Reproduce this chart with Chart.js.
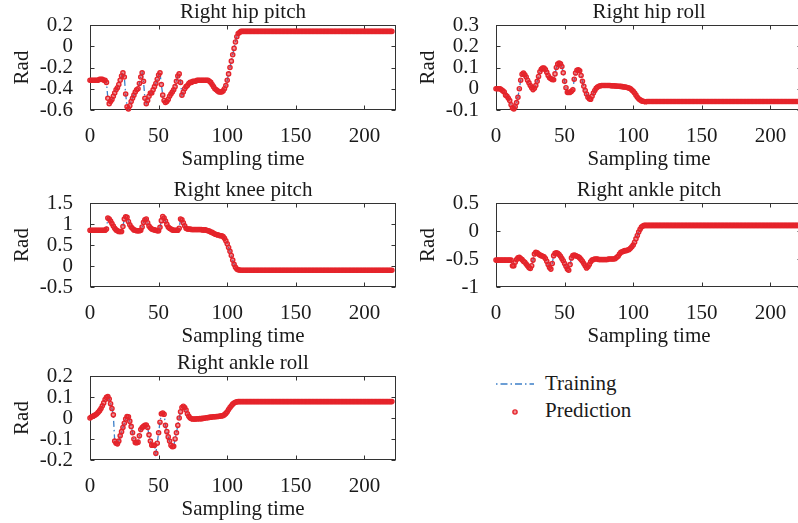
<!DOCTYPE html>
<html lang="en">
<head>
<meta charset="UTF-8">
<title>Right leg joints: training vs prediction</title>
<script src="https://cdn.jsdelivr.net/npm/chart.js"></script>
<style>
  html, body { margin: 0; padding: 0; width: 798px; height: 523px; overflow: hidden; background: #fff; }
  .panel { position: absolute; }
  .legend-text { position: absolute; font: 21px 'Liberation Serif', serif; color: #1a1a1a; line-height: 24px; white-space: nowrap; }
  .legend-mark { position: absolute; }
</style>
</head>
<body>
<div class="panel" id="p1"><canvas></canvas></div>
<div class="panel" id="p2"><canvas></canvas></div>
<div class="panel" id="p3"><canvas></canvas></div>
<div class="panel" id="p4"><canvas></canvas></div>
<div class="panel" id="p5"><canvas></canvas></div>

<!-- legend -->
<svg class="legend-mark" style="left:494px;top:378px" width="42" height="12">
  <line x1="2" y1="6" x2="40" y2="6" stroke="#3d7fc8" stroke-width="1.5" stroke-dasharray="1.5 3 7 3"/>
</svg>
<div class="legend-text" style="left:545px;top:371px">Training</div>
<svg class="legend-mark" style="left:509px;top:406px" width="12" height="12">
  <circle cx="6" cy="6" r="2.1" stroke="#e5242b" stroke-width="1.4" fill="rgba(229,36,43,0.5)"/>
</svg>
<div class="legend-text" style="left:545px;top:398px">Prediction</div>

<script>
// tick labels
const xTicks = [0, 50, 100, 150, 200];
const hipPitchTicks = [-0.6, -0.4, -0.2, 0, 0.2];
const hipRollTicks = [-0.1, 0, 0.1, 0.2, 0.3];
const kneePitchTicks = [-0.5, 0, 0.5, 1, 1.5];
const anklePitchTicks = [-1, -0.5, 0, 0.5];
const ankleRollTicks = [-0.2, -0.1, 0, 0.1, 0.2];

// joint angles (rad), one value per sampling time 0..220
const hipPitch = [
  -0.32,-0.32,-0.32,-0.32,-0.32,-0.32,-0.32,-0.31,-0.31,-0.31,
  -0.32,-0.32,-0.34,-0.49,-0.54,-0.52,-0.50,-0.47,-0.44,-0.41,
  -0.39,-0.36,-0.32,-0.28,-0.25,-0.29,-0.45,-0.57,-0.59,-0.56,
  -0.52,-0.49,-0.46,-0.43,-0.41,-0.40,-0.35,-0.29,-0.25,-0.33,
  -0.49,-0.54,-0.51,-0.47,-0.44,-0.44,-0.41,-0.38,-0.35,-0.31,
  -0.27,-0.25,-0.36,-0.46,-0.51,-0.53,-0.52,-0.50,-0.47,-0.45,
  -0.43,-0.41,-0.38,-0.33,-0.28,-0.26,-0.34,-0.46,-0.43,-0.40,
  -0.38,-0.37,-0.35,-0.34,-0.34,-0.33,-0.33,-0.33,-0.32,-0.32,
  -0.32,-0.32,-0.32,-0.32,-0.32,-0.32,-0.32,-0.33,-0.34,-0.36,
  -0.38,-0.40,-0.41,-0.42,-0.43,-0.43,-0.43,-0.42,-0.40,-0.37,
  -0.32,-0.26,-0.20,-0.14,-0.08,-0.02,0.04,0.09,0.12,0.13,
  0.14,0.14,0.14,0.14,0.14,0.14,0.14,0.14,0.14,0.14,
  0.14,0.14,0.14,0.14,0.14,0.14,0.14,0.14,0.14,0.14,
  0.14,0.14,0.14,0.14,0.14,0.14,0.14,0.14,0.14,0.14,
  0.14,0.14,0.14,0.14,0.14,0.14,0.14,0.14,0.14,0.14,
  0.14,0.14,0.14,0.14,0.14,0.14,0.14,0.14,0.14,0.14,
  0.14,0.14,0.14,0.14,0.14,0.14,0.14,0.14,0.14,0.14,
  0.14,0.14,0.14,0.14,0.14,0.14,0.14,0.14,0.14,0.14,
  0.14,0.14,0.14,0.14,0.14,0.14,0.14,0.14,0.14,0.14,
  0.14,0.14,0.14,0.14,0.14,0.14,0.14,0.14,0.14,0.14,
  0.14,0.14,0.14,0.14,0.14,0.14,0.14,0.14,0.14,0.14,
  0.14,0.14,0.14,0.14,0.14,0.14,0.14,0.14,0.14,0.14,
  0.14
];

const hipRoll = [
  0.00,0.00,0.00,0.00,-0.005,-0.01,-0.015,-0.03,-0.035,-0.045,
  -0.055,-0.075,-0.09,-0.095,-0.085,-0.065,-0.04,0.00,0.04,0.068,
  0.074,0.066,0.055,0.04,0.028,0.015,0.005,-0.004,0.002,0.015,
  0.035,0.058,0.08,0.092,0.097,0.097,0.09,0.078,0.062,0.052,
  0.047,0.044,0.042,0.07,0.1,0.116,0.121,0.118,0.105,0.075,
  0.035,0.005,-0.017,-0.018,-0.017,-0.012,-0.005,0.045,0.074,0.087,
  0.089,0.085,0.062,0.035,0.012,-0.008,-0.025,-0.04,-0.047,-0.049,
  -0.035,-0.02,-0.008,0.002,0.008,0.012,0.014,0.015,0.015,0.015,
  0.015,0.015,0.015,0.015,0.014,0.014,0.014,0.013,0.013,0.012,
  0.012,0.011,0.01,0.009,0.008,0.007,0.005,0.003,0.0,-0.006,
  -0.012,-0.02,-0.03,-0.04,-0.047,-0.052,-0.056,-0.059,-0.06,-0.061,
  -0.06,-0.06,-0.06,-0.06,-0.06,-0.06,-0.06,-0.06,-0.06,-0.06,
  -0.06,-0.06,-0.06,-0.06,-0.06,-0.06,-0.06,-0.06,-0.06,-0.06,
  -0.06,-0.06,-0.06,-0.06,-0.06,-0.06,-0.06,-0.06,-0.06,-0.06,
  -0.06,-0.06,-0.06,-0.06,-0.06,-0.06,-0.06,-0.06,-0.06,-0.06,
  -0.06,-0.06,-0.06,-0.06,-0.06,-0.06,-0.06,-0.06,-0.06,-0.06,
  -0.06,-0.06,-0.06,-0.06,-0.06,-0.06,-0.06,-0.06,-0.06,-0.06,
  -0.06,-0.06,-0.06,-0.06,-0.06,-0.06,-0.06,-0.06,-0.06,-0.06,
  -0.06,-0.06,-0.06,-0.06,-0.06,-0.06,-0.06,-0.06,-0.06,-0.06,
  -0.06,-0.06,-0.06,-0.06,-0.06,-0.06,-0.06,-0.06,-0.06,-0.06,
  -0.06,-0.06,-0.06,-0.06,-0.06,-0.06,-0.06,-0.06,-0.06,-0.06,
  -0.06,-0.06,-0.06,-0.06,-0.06,-0.06,-0.06,-0.06,-0.06,-0.06,
  -0.06
];

const kneePitch = [
  0.85,0.85,0.85,0.85,0.85,0.85,0.85,0.85,0.85,0.85,
  0.85,0.85,0.88,1.14,1.12,1.07,1.01,0.95,0.90,0.86,
  0.84,0.82,0.82,0.82,0.94,1.12,1.17,1.16,1.06,0.98,
  0.93,0.89,0.86,0.85,0.84,0.84,0.84,0.85,0.93,1.04,
  1.10,1.12,1.03,0.95,0.91,0.88,0.87,0.86,0.85,0.84,
  0.84,0.92,1.08,1.18,1.14,1.07,0.99,0.93,0.90,0.88,
  0.86,0.85,0.85,0.85,0.85,0.90,1.12,1.10,1.03,0.96,
  0.90,0.88,0.88,0.88,0.87,0.87,0.87,0.87,0.87,0.87,
  0.87,0.87,0.86,0.86,0.86,0.85,0.84,0.83,0.81,0.80,
  0.78,0.76,0.75,0.74,0.73,0.72,0.72,0.70,0.66,0.60,
  0.53,0.44,0.35,0.25,0.14,0.04,-0.03,-0.07,-0.09,-0.095,
  -0.10,-0.10,-0.10,-0.10,-0.10,-0.10,-0.10,-0.10,-0.10,-0.10,
  -0.10,-0.10,-0.10,-0.10,-0.10,-0.10,-0.10,-0.10,-0.10,-0.10,
  -0.10,-0.10,-0.10,-0.10,-0.10,-0.10,-0.10,-0.10,-0.10,-0.10,
  -0.10,-0.10,-0.10,-0.10,-0.10,-0.10,-0.10,-0.10,-0.10,-0.10,
  -0.10,-0.10,-0.10,-0.10,-0.10,-0.10,-0.10,-0.10,-0.10,-0.10,
  -0.10,-0.10,-0.10,-0.10,-0.10,-0.10,-0.10,-0.10,-0.10,-0.10,
  -0.10,-0.10,-0.10,-0.10,-0.10,-0.10,-0.10,-0.10,-0.10,-0.10,
  -0.10,-0.10,-0.10,-0.10,-0.10,-0.10,-0.10,-0.10,-0.10,-0.10,
  -0.10,-0.10,-0.10,-0.10,-0.10,-0.10,-0.10,-0.10,-0.10,-0.10,
  -0.10,-0.10,-0.10,-0.10,-0.10,-0.10,-0.10,-0.10,-0.10,-0.10,
  -0.10,-0.10,-0.10,-0.10,-0.10,-0.10,-0.10,-0.10,-0.10,-0.10,
  -0.10
];

const anklePitch = [
  -0.52,-0.52,-0.52,-0.52,-0.52,-0.52,-0.52,-0.52,-0.52,-0.52,
  -0.52,-0.52,-0.62,-0.62,-0.56,-0.51,-0.48,-0.47,-0.49,-0.51,
  -0.54,-0.56,-0.59,-0.62,-0.65,-0.67,-0.62,-0.52,-0.41,-0.38,
  -0.39,-0.41,-0.43,-0.44,-0.45,-0.46,-0.49,-0.54,-0.60,-0.65,
  -0.68,-0.58,-0.44,-0.40,-0.39,-0.40,-0.42,-0.45,-0.49,-0.53,
  -0.58,-0.63,-0.68,-0.70,-0.60,-0.48,-0.44,-0.43,-0.44,-0.45,
  -0.46,-0.48,-0.51,-0.54,-0.58,-0.62,-0.66,-0.64,-0.60,-0.55,
  -0.52,-0.51,-0.50,-0.50,-0.50,-0.51,-0.51,-0.51,-0.51,-0.51,
  -0.51,-0.51,-0.50,-0.50,-0.50,-0.50,-0.50,-0.49,-0.47,-0.45,
  -0.41,-0.38,-0.37,-0.36,-0.35,-0.35,-0.34,-0.33,-0.31,-0.28,
  -0.25,-0.20,-0.14,-0.08,-0.02,0.03,0.07,0.09,0.10,0.10,
  0.10,0.10,0.10,0.10,0.10,0.10,0.10,0.10,0.10,0.10,
  0.10,0.10,0.10,0.10,0.10,0.10,0.10,0.10,0.10,0.10,
  0.10,0.10,0.10,0.10,0.10,0.10,0.10,0.10,0.10,0.10,
  0.10,0.10,0.10,0.10,0.10,0.10,0.10,0.10,0.10,0.10,
  0.10,0.10,0.10,0.10,0.10,0.10,0.10,0.10,0.10,0.10,
  0.10,0.10,0.10,0.10,0.10,0.10,0.10,0.10,0.10,0.10,
  0.10,0.10,0.10,0.10,0.10,0.10,0.10,0.10,0.10,0.10,
  0.10,0.10,0.10,0.10,0.10,0.10,0.10,0.10,0.10,0.10,
  0.10,0.10,0.10,0.10,0.10,0.10,0.10,0.10,0.10,0.10,
  0.10,0.10,0.10,0.10,0.10,0.10,0.10,0.10,0.10,0.10,
  0.10,0.10,0.10,0.10,0.10,0.10,0.10,0.10,0.10,0.10,
  0.10
];

const ankleRoll = [
  0.00,0.005,0.008,0.012,0.015,0.02,0.027,0.035,0.045,0.058,
  0.072,0.088,0.098,0.102,0.09,0.068,0.045,0.015,-0.11,-0.12,
  -0.123,-0.11,-0.085,-0.065,-0.045,-0.025,-0.005,0.007,0.006,-0.015,
  -0.04,-0.07,-0.10,-0.117,-0.118,-0.115,-0.085,-0.055,-0.045,-0.04,
  -0.035,-0.033,-0.045,-0.08,-0.11,-0.13,-0.13,-0.13,-0.168,-0.12,
  -0.07,-0.02,0.02,0.024,0.018,-0.035,-0.065,-0.09,-0.11,-0.13,
  -0.137,-0.135,-0.10,-0.07,-0.035,0.00,0.03,0.05,0.056,0.05,
  0.038,0.02,0.008,0.0,-0.004,-0.005,-0.005,-0.005,-0.004,-0.004,
  -0.003,-0.003,-0.002,-0.001,0.0,0.001,0.002,0.003,0.004,0.005,
  0.006,0.006,0.007,0.007,0.008,0.009,0.01,0.012,0.016,0.022,
  0.03,0.04,0.05,0.058,0.066,0.071,0.075,0.077,0.078,0.078,
  0.078,0.078,0.078,0.078,0.078,0.078,0.078,0.078,0.078,0.078,
  0.078,0.078,0.078,0.078,0.078,0.078,0.078,0.078,0.078,0.078,
  0.078,0.078,0.078,0.078,0.078,0.078,0.078,0.078,0.078,0.078,
  0.078,0.078,0.078,0.078,0.078,0.078,0.078,0.078,0.078,0.078,
  0.078,0.078,0.078,0.078,0.078,0.078,0.078,0.078,0.078,0.078,
  0.078,0.078,0.078,0.078,0.078,0.078,0.078,0.078,0.078,0.078,
  0.078,0.078,0.078,0.078,0.078,0.078,0.078,0.078,0.078,0.078,
  0.078,0.078,0.078,0.078,0.078,0.078,0.078,0.078,0.078,0.078,
  0.078,0.078,0.078,0.078,0.078,0.078,0.078,0.078,0.078,0.078,
  0.078,0.078,0.078,0.078,0.078,0.078,0.078,0.078,0.078,0.078,
  0.078,0.078,0.078,0.078,0.078,0.078,0.078,0.078,0.078,0.078,
  0.078
];

const TEXT = '#1a1a1a';
const RED = '#e5242b';
const BLUE = '#3d7fc8';
const X_MAX = 223;

Chart.defaults.font.family = "'Liberation Serif', 'Times New Roman', serif";
Chart.defaults.font.size = 21;
Chart.defaults.color = TEXT;

// plot-area rectangles, in page pixels
const leftCol = { left: 90, right: 396 };
const rightCol = { left: 496, right: 802 };
const rows = [{ top: 25, bottom: 110 }, { top: 203, bottom: 287 }, { top: 376, bottom: 460 }];

// MATLAB style box with inward ticks on all four sides
const frameBox = {
  id: 'frameBox',
  beforeDatasetsDraw(chart) {
    const { ctx, chartArea: a, scales: { x, y } } = chart;
    const L = Math.round(a.left) + 0.5, R = Math.round(a.right) - 0.5;
    const T = Math.round(a.top) + 0.5, B = Math.round(a.bottom) - 0.5;
    ctx.save();
    ctx.strokeStyle = '#333';
    ctx.lineWidth = 1;
    ctx.strokeRect(L, T, R - L, B - T);
    ctx.beginPath();
    x.ticks.forEach(t => {
      const px = Math.round(x.getPixelForValue(t.value)) + 0.5;
      ctx.moveTo(px, B); ctx.lineTo(px, B - 4);
      ctx.moveTo(px, T); ctx.lineTo(px, T + 4);
    });
    y.ticks.forEach(t => {
      const py = Math.round(y.getPixelForValue(t.value)) + 0.5;
      ctx.moveTo(L, py); ctx.lineTo(L + 4, py);
      ctx.moveTo(R, py); ctx.lineTo(R - 4, py);
    });
    ctx.stroke();
    ctx.restore();
  }
};

function makePanel(id, title, values, yTicks, col, row) {
  const div = document.getElementById(id);
  const w = col.right - col.left, h = row.bottom - row.top;
  div.style.left = (col.left - 90) + 'px';
  div.style.top = (row.top - 26) + 'px';
  div.style.width = (w + 100) + 'px';
  div.style.height = (h + 88) + 'px';

  return new Chart(div.querySelector('canvas'), {
    type: 'line',
    data: {
      datasets: [
        {
          label: 'Prediction',
          data: values.map((v, i) => ({ x: i, y: v })),
          showLine: false,
          pointRadius: 2.1,
          pointBorderWidth: 1.4,
          pointBorderColor: RED,
          pointBackgroundColor: 'rgba(229,36,43,0.5)',
          order: 0,
          clip: false
        },
        {
          label: 'Training',
          data: values.map((v, i) => ({ x: i, y: v })),
          borderColor: BLUE,
          borderWidth: 1.3,
          borderDash: [6, 3, 1.5, 3],
          pointRadius: 0,
          tension: 0,
          order: 1,
          clip: false
        }
      ]
    },
    options: {
      animation: false,
      responsive: true,
      maintainAspectRatio: false,
      layout: { padding: { top: 0, right: 10, bottom: 0, left: 0 } },
      plugins: {
        legend: { display: false },
        tooltip: { enabled: false },
        title: {
          display: true,
          fullSize: false,
          text: title,
          color: TEXT,
          font: { size: 21, weight: 'normal', lineHeight: 1 },
          padding: { top: 3, bottom: 2 }
        }
      },
      scales: {
        x: {
          type: 'linear',
          min: 0,
          max: X_MAX,
          grid: { display: false },
          border: { display: false },
          ticks: { padding: 6, maxRotation: 0, autoSkip: false, includeBounds: false, callback: v => String(v) },
          afterBuildTicks: s => { s.ticks = xTicks.map(v => ({ value: v })); },
          afterFit: s => { s.height = 62; },
          title: {
            display: true,
            text: 'Sampling time',
            font: { size: 21, lineHeight: 1 },
            padding: { top: 0, bottom: 2.5 }
          }
        },
        y: {
          type: 'linear',
          min: yTicks[0],
          max: yTicks[yTicks.length - 1],
          grid: { display: false },
          border: { display: false },
          ticks: { padding: 9, autoSkip: false, callback: v => String(v) },
          afterBuildTicks: s => { s.ticks = yTicks.map(v => ({ value: v })); },
          afterFit: s => { s.width = 90; },
          title: {
            display: true,
            text: 'Rad',
            font: { size: 21, lineHeight: 1 },
            padding: { top: 11.5, bottom: 0 }
          }
        }
      }
    },
    plugins: [frameBox]
  });
}

makePanel('p1', 'Right hip pitch', hipPitch, hipPitchTicks, leftCol, rows[0]);
makePanel('p2', 'Right hip roll', hipRoll, hipRollTicks, rightCol, rows[0]);
makePanel('p3', 'Right knee pitch', kneePitch, kneePitchTicks, leftCol, rows[1]);
makePanel('p4', 'Right ankle pitch', anklePitch, anklePitchTicks, rightCol, rows[1]);
makePanel('p5', 'Right ankle roll', ankleRoll, ankleRollTicks, leftCol, rows[2]);
</script>
</body>
</html>
